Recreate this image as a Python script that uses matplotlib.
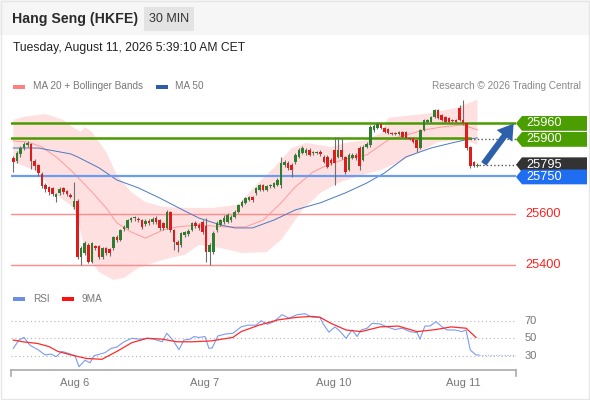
import numpy as np
import matplotlib
matplotlib.use("Agg")
import matplotlib.pyplot as plt
from matplotlib.patches import Polygon, Rectangle
from matplotlib import transforms

plt.rcParams['font.family'] = ['Liberation Sans', 'DejaVu Sans']

# 30 min candles, Hang Seng futures
opens = [25822, 25810, 25838, 25861, 25873, 25877, 25810, 25794, 25759, 25715,
         25708, 25704, 25668, 25684, 25704, 25692, 25676, 25629, 25652, 25432,
         25447, 25479, 25412, 25475, 25475, 25432, 25467, 25463, 25467, 25510,
         25499, 25542, 25546, 25577, 25585, 25581, 25577, 25562, 25574, 25570,
         25585, 25577, 25566, 25546, 25609, 25538, 25491, 25479, 25518, 25522,
         25538, 25566, 25558, 25570, 25554, 25451, 25451, 25538, 25558, 25570,
         25570, 25577, 25589, 25609, 25633, 25645, 25656, 25668, 25684, 25696,
         25715, 25696, 25712, 25708, 25715, 25715, 25794, 25802, 25794, 25806,
         25826, 25842, 25842, 25854, 25842, 25842, 25846, 25826, 25826, 25814,
         25854, 25826, 25854, 25826, 25775, 25822, 25834, 25861, 25814, 25865,
         25873, 25932, 25940, 25956, 25940, 25936, 25921, 25921, 25917, 25925,
         25925, 25901, 25901, 25893, 25861, 25932, 25964, 25964, 25984, 26011,
         25992, 25984, 25980, 25972, 25972, 26019, 25972, 25960, 25865, 25806,
         25790]
closes = [25806, 25842, 25861, 25877, 25881, 25810, 25790, 25763, 25712, 25700,
          25688, 25680, 25680, 25700, 25688, 25680, 25668, 25652, 25432, 25467,
          25487, 25412, 25487, 25467, 25432, 25467, 25447, 25447, 25510, 25499,
          25538, 25550, 25577, 25585, 25589, 25577, 25550, 25574, 25566, 25581,
          25570, 25546, 25546, 25609, 25538, 25491, 25479, 25526, 25530, 25534,
          25566, 25554, 25546, 25530, 25451, 25479, 25526, 25566, 25577, 25585,
          25597, 25589, 25609, 25637, 25648, 25664, 25668, 25656, 25704, 25715,
          25696, 25712, 25715, 25723, 25735, 25802, 25806, 25783, 25775, 25834,
          25854, 25861, 25854, 25834, 25846, 25846, 25838, 25806, 25786, 25802,
          25802, 25854, 25826, 25767, 25834, 25834, 25822, 25790, 25865, 25877,
          25944, 25948, 25956, 25940, 25925, 25921, 25917, 25917, 25925, 25905,
          25901, 25897, 25885, 25861, 25932, 25972, 25972, 25984, 26011, 25980,
          25972, 25964, 25964, 25968, 25964, 25972, 25960, 25861, 25790, 25790,
          25795]
highs = [25830, 25850, 25869, 25885, 25889, 25881, 25818, 25798, 25767, 25723,
         25712, 25708, 25684, 25708, 25708, 25696, 25684, 25727, 25660, 25475,
         25495, 25487, 25491, 25479, 25479, 25471, 25471, 25467, 25514, 25518,
         25542, 25558, 25581, 25589, 25593, 25589, 25581, 25581, 25581, 25589,
         25593, 25581, 25570, 25617, 25613, 25542, 25499, 25530, 25534, 25542,
         25570, 25574, 25566, 25577, 25585, 25487, 25534, 25574, 25581, 25597,
         25605, 25597, 25617, 25641, 25656, 25668, 25672, 25672, 25708, 25719,
         25719, 25715, 25719, 25727, 25743, 25826, 25814, 25810, 25802, 25842,
         25861, 25869, 25861, 25861, 25850, 25850, 25854, 25834, 25834, 25822,
         25905, 25905, 25901, 25830, 25842, 25842, 25842, 25869, 25873, 25885,
         25952, 25956, 25964, 25960, 25944, 25940, 25925, 25925, 25929, 25929,
         25929, 25905, 25905, 25897, 25936, 25976, 25976, 25988, 26015, 26015,
         25995, 25988, 25984, 25976, 25976, 26031, 26051, 25964, 25869, 25810,
         25802]
lows = [25767, 25802, 25826, 25854, 25865, 25779, 25775, 25751, 25704, 25688,
        25676, 25672, 25648, 25676, 25680, 25672, 25664, 25621, 25424, 25400,
        25439, 25408, 25408, 25459, 25424, 25424, 25439, 25435, 25459, 25491,
        25495, 25534, 25542, 25570, 25574, 25570, 25542, 25554, 25558, 25562,
        25562, 25538, 25538, 25542, 25530, 25459, 25451, 25471, 25510, 25514,
        25534, 25546, 25538, 25522, 25412, 25400, 25443, 25530, 25554, 25562,
        25566, 25570, 25585, 25605, 25629, 25641, 25652, 25648, 25676, 25692,
        25692, 25692, 25704, 25704, 25712, 25704, 25786, 25775, 25747, 25798,
        25822, 25838, 25834, 25830, 25834, 25838, 25830, 25802, 25783, 25794,
        25715, 25822, 25818, 25759, 25771, 25818, 25814, 25775, 25810, 25861,
        25865, 25925, 25936, 25936, 25921, 25917, 25913, 25913, 25913, 25901,
        25897, 25893, 25881, 25846, 25857, 25929, 25960, 25960, 25980, 25976,
        25968, 25960, 25960, 25964, 25960, 25968, 25952, 25854, 25783, 25786,
        25786]

# indicator lines (candle index, price)
ma20_x = [0, 4, 8, 12, 16, 18, 22, 26, 29, 33, 37, 42, 46, 52, 59, 65, 70, 75,
          79, 84, 88, 93, 99, 105, 115, 120, 126, 130]
ma20_y = [25889, 25885, 25865, 25826, 25775, 25747, 25688, 25625, 25566, 25530,
          25506, 25538, 25550, 25558, 25550, 25550, 25577, 25645, 25708, 25767,
          25794, 25818, 25834, 25893, 25932, 25944, 25952, 25932]
bb_up_x = [0, 3, 9, 14, 17, 19, 20, 22, 26, 29, 33, 37, 42, 48, 56, 63, 68, 73,
           78, 82, 89, 93, 99, 103, 105, 113, 117, 124, 130]
bb_up_y = [25972, 25984, 25995, 25972, 25940, 25925, 25944, 25925, 25846, 25755,
           25688, 25648, 25629, 25625, 25625, 25637, 25715, 25783, 25861, 25881,
           25865, 25881, 25893, 25921, 25980, 25992, 25999, 26019, 26051]
bb_lo_x = [0, 7, 12, 16, 18, 20, 24, 28, 31, 35, 40, 44, 48, 52, 58, 64, 71, 75,
           77, 81, 86, 91, 96, 103, 108, 114, 119, 126, 130]
bb_lo_y = [25806, 25767, 25676, 25637, 25597, 25451, 25372, 25341, 25349, 25388,
           25412, 25428, 25439, 25479, 25467, 25447, 25451, 25499, 25538, 25617,
           25684, 25723, 25747, 25775, 25806, 25846, 25885, 25893, 25873]
ma50_x = [0, 7, 16, 18, 24, 29, 35, 41, 48, 52, 58, 62, 67, 73, 79, 86, 93, 99,
          104, 110, 117, 124, 128, 130]
ma50_y = [25861, 25861, 25838, 25826, 25783, 25735, 25704, 25664, 25613, 25585,
          25558, 25546, 25546, 25577, 25617, 25645, 25684, 25723, 25763, 25826,
          25861, 25885, 25897, 25901]

rsi_x = [0, 1.6, 3, 4.7, 6.9, 8.9, 10.6, 12, 13.6, 15.3, 17.3, 18.4, 20.1, 21.5,
         22.6, 24.3, 25.7, 27.4, 29, 31, 33.2, 35.2, 37.5, 39.4, 41.7, 43, 44.7,
         46.4, 47.8, 49.5, 50.6, 52, 53.7, 54.8, 55.7, 57.3, 59.6, 61.5, 63.8,
         65.7, 68, 69.4, 71.1, 73, 75.3, 77.2, 79.5, 81.7, 83.7, 85.9, 86.7, 88.4,
         90.1, 91.5, 93.2, 94.9, 96.3, 97.4, 99.1, 100.5, 102.7, 104.7, 106.9,
         108.9, 111.1, 113.1, 113.9, 115.3, 116.7, 118.4, 120.1, 121.5, 123.7,
         125.7, 126.8, 128, 129.6, 130.4]
rsi_y = [38.5, 48, 51, 42, 37, 31, 32, 29, 35, 33, 30, 17.5, 25, 22, 30, 32, 33.6,
         38.5, 40, 46, 50, 49, 50, 49, 46, 55.7, 48, 37, 48, 49, 52, 51, 52, 38.5,
         39, 52.7, 55, 55.7, 63, 65, 65, 70, 66, 69, 77, 73, 77, 78, 74, 74, 67,
         57, 63, 58, 50, 59.5, 52, 59.5, 61.5, 67, 66.4, 63, 60, 61.5, 57.6, 56.5,
         49, 64, 64, 69, 63, 59.5, 59.5, 57.6, 59.5, 36.6, 31, 31]
ma9_x = [0, 2.7, 6.9, 10, 12.5, 16.2, 20.4, 24.8, 29, 33.2, 37.5, 41.7, 45.9, 50.1,
         55.4, 61.5, 63.8, 68.8, 74.1, 79.5, 83.7, 85.9, 89, 93.2, 97.4, 102.7,
         107.8, 113.1, 118.4, 122.6, 126.8, 129.6]
ma9_y = [48, 46, 44, 40.5, 35, 31, 27, 26, 35, 45, 50, 49, 46, 46, 47, 51, 57.6,
         65, 71, 74, 75, 74, 67, 59.5, 57.6, 63, 64, 57.6, 60, 63, 61.5, 51]

levels_green = [25960, 25900]
level_blue = 25750
levels_red = [25600, 25400]
last_price = 25795

date_pos = [17.3, 53.7, 89.6, 126]
date_labels = ["Aug 6", "Aug 7", "Aug 10", "Aug 11"]

W, H = 590, 400
fig = plt.figure(figsize=(W / 100, H / 100), dpi=100)
fig.patch.set_facecolor('white')


def fx(px):
    return px / W


def fy(py):
    return 1 - py / H


# header strip
fig.patches.append(Rectangle((0, fy(35)), 1, 35 / H, transform=fig.transFigure,
                             facecolor='#f6f6f6', edgecolor='none', zorder=0))
fig.patches.append(Rectangle((fx(144), fy(31)), 50 / W, 24 / H, transform=fig.transFigure,
                             facecolor='#e3e3e3', edgecolor='none', zorder=1))
fig.text(fx(12), fy(19), "Hang Seng (HKFE)", fontsize=10.2, fontweight='bold',
         color='#2b2b2b', va='center')
fig.text(fx(169), fy(19), "30 MIN", fontsize=9, color='#333333', va='center', ha='center')
fig.text(fx(13), fy(48), "Tuesday, August 11, 2026 5:39:10 AM CET", fontsize=8.7,
         color='#222222', va='center')

# legends
fig.patches.append(Rectangle((fx(13), fy(88.5)), 12 / W, 4 / H, transform=fig.transFigure,
                             facecolor='#ff8080', edgecolor='none'))
fig.text(fx(33), fy(86), "MA 20 + Bollinger Bands", fontsize=7.2, color='#777777', va='center')
fig.patches.append(Rectangle((fx(156), fy(88.5)), 12 / W, 4 / H, transform=fig.transFigure,
                             facecolor='#2c5ea8', edgecolor='none'))
fig.text(fx(175), fy(86), "MA 50", fontsize=7.2, color='#777777', va='center')
fig.text(fx(581), fy(86), "Research \u00a9 2026 Trading Central", fontsize=7.2,
         color='#888888', va='center', ha='right')

fig.patches.append(Rectangle((fx(13), fy(301)), 12 / W, 4 / H, transform=fig.transFigure,
                             facecolor='#6b8fe6', edgecolor='none'))
fig.text(fx(33), fy(299), "RSI", fontsize=7.2, color='#777777', va='center')
fig.patches.append(Rectangle((fx(62), fy(301)), 12 / W, 4 / H, transform=fig.transFigure,
                             facecolor='#ff1010', edgecolor='none'))
fig.text(fx(82), fy(299), "9MA", fontsize=7.2, color='#777777', va='center')

# main price panel
ax = fig.add_axes([fx(11), fy(285), 505 / W, 190 / H])
ax.set_xlim(-0.64, 140.8)
ax.set_ylim(25321, 26070)
ax.axis('off')

# band as polygon from the two edges
band = np.column_stack([bb_up_x + bb_lo_x[::-1], bb_up_y + bb_lo_y[::-1]])
ax.add_patch(Polygon(band, closed=True, facecolor='#ffe0e0', edgecolor='none', zorder=1))
ax.plot(ma20_x, ma20_y, color='#ff9a9a', lw=0.7, zorder=3)
ax.plot(ma50_x, ma50_y, color='#4a78c0', lw=0.7, zorder=3)

ax.axhline(levels_green[0], color='#4a9a00', lw=1.8, zorder=4)
ax.plot([-0.64, 128], [levels_green[1]] * 2, color='#4a9a00', lw=1.8, zorder=4)
ax.plot([128, 140.8], [levels_green[1] - 3] * 2, ls=':', color='#555555', lw=1.0, zorder=4)
ax.axhline(level_blue, color='#6b9cf0', lw=1.6, zorder=4)
for lv in levels_red:
    ax.axhline(lv, color='#ff8a8a', lw=1.0, zorder=2)

idx = np.arange(len(closes))
o = np.array(opens)
c = np.array(closes)
up = c >= o
body_h = np.where(np.abs(c - o) < 3, 3, c - o)
ax.vlines(idx, lows, highs, color='#6e6e6e', lw=0.8, zorder=5)
ax.bar(idx[up], body_h[up], bottom=o[up], width=0.72, color='#2f7d2f', zorder=6)
ax.bar(idx[~up], body_h[~up], bottom=o[~up], width=0.72, color='#dd1c1c', zorder=6)

ax.plot([len(closes) - 0.5, 140.8], [last_price, last_price], ls=':', color='#555555', lw=1.0, zorder=4)

# arrow
ax.annotate("", xy=(140.6, 25966), xytext=(131.3, 25790),
            arrowprops=dict(arrowstyle='simple,head_width=1.4,head_length=1.1,tail_width=0.45',
                            mutation_scale=10, color='#2d60a8', lw=0), zorder=8, annotation_clip=False)

# right side price tags
tr = transforms.blended_transform_factory(fig.transFigure, ax.transData)
half = 7.4 * 3.944


def tag(price, color, text, ctr=None):
    yc = price if ctr is None else ctr
    pts = [(fx(516), yc), (fx(522), yc + half), (fx(587), yc + half),
           (fx(587), yc - half), (fx(522), yc - half)]
    ax.add_patch(Polygon(pts, closed=True, transform=tr, facecolor=color, edgecolor='none',
                         clip_on=False, zorder=9))
    ax.text(fx(526), yc, text, transform=tr, color='white', fontsize=9.2, va='center',
            ha='left', zorder=10, clip_on=False)


tag(levels_green[0], '#4a9e00', "25960", ctr=levels_green[0] - 2)
tag(levels_green[1], '#4a9e00', "25900", ctr=levels_green[1] - 5)
tag(last_price, '#333333', "25795")
tag(level_blue, '#1f6ef2', "25750", ctr=level_blue - 3)
for lv in levels_red:
    ax.text(fx(525), lv, str(lv), transform=tr, color='#ff2020', fontsize=9.2,
            va='center', ha='left', clip_on=False)

# RSI panel
ax2 = fig.add_axes([fx(11), fy(370), 505 / W, 60 / H])
ax2.set_xlim(-0.64, 140.8)
ax2.set_ylim(13.8, 82.3)
for s in ['top', 'right', 'left']:
    ax2.spines[s].set_visible(False)
ax2.spines['bottom'].set_color('#aaaaaa')
ax2.spines['bottom'].set_linewidth(1.2)
for g in [30, 50, 70]:
    ax2.axhline(g, color='#b5b5b5', ls=(0, (1, 2.5)), lw=0.8, zorder=1)
    ax2.text(1.017, g, str(g), transform=ax2.get_yaxis_transform(), color='#777777',
             fontsize=8, va='center', ha='left')
ax2.plot(rsi_x, rsi_y, color='#7b9cf0', lw=0.8, zorder=3)
ax2.plot([rsi_x[-1], 140.8], [rsi_y[-1], rsi_y[-1]], color='#9bb3f0', ls=(0, (1, 1.5)), lw=0.8)
ax2.plot(ma9_x, ma9_y, color='#ff2a2a', lw=0.9, zorder=4)
ax2.set_yticks([])
ax2.set_xticks(date_pos)
ax2.set_xticklabels(date_labels, color='#777777', fontsize=8)
ax2.tick_params(axis='x', length=0, pad=6)
for xe in [0, 1]:
    ax2.plot([xe, xe], [0, -0.1], transform=ax2.transAxes, color='#aaaaaa', lw=1.2, clip_on=False)

# frame
fig.patches.append(Rectangle((0.001, 0.002), 0.997, 0.996, transform=fig.transFigure,
                             facecolor='none', edgecolor='#e6e6e6', lw=1.0))

fig.savefig("out.png", dpi=100)
